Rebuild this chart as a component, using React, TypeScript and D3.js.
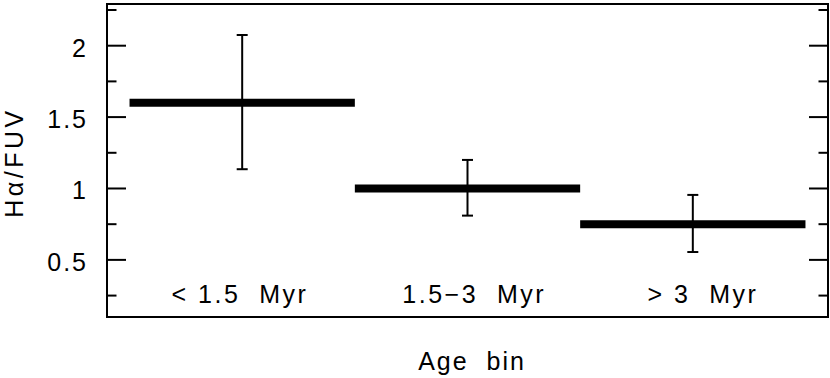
import React from 'react'
import { scaleLinear, range } from 'd3'

// Data
const bins = ['< 1.5 Myr', '1.5\u22123 Myr', '> 3 Myr']
const binStart = [0, 1, 2]
const binEnd = [1, 2, 3]
const ratio = [1.6, 1.0, 0.75]
const errLow = [1.135, 0.81, 0.555]
const errHigh = [2.075, 1.2, 0.955]
const labelX = [0.49, 1.53, 2.545]
const labelY = 0.2
const yTickLabels = ['0.5', '1', '1.5', '2']
const yMajor = [0.5, 1, 1.5, 2]

const W = 830
const H = 378
const margin = { left: 107, right: 2, top: 4, bottom: 61 }
const font = '"Liberation Sans", Arial, sans-serif'

const App = () => {
    const x = scaleLinear()
        .domain([-0.1, 3.1])
        .range([margin.left, W - margin.right])
    const y = scaleLinear()
        .domain([0.1, 2.292])
        .range([H - margin.bottom, margin.top])

    const minor = range(0.25, 2.3, 0.25).filter(v => !yMajor.includes(v))
    const x0 = x.range()[0]
    const x1 = x.range()[1]

    return (
        <svg width={W} height={H} style={{ position: 'absolute', left: 0, top: 0 }}
            fontFamily={font}>
            <rect x={0} y={0} width={W} height={H} fill="#fff" />

            {/* ticks on both sides, inward */}
            {yMajor.map(v => (
                <g key={'M' + v} stroke="#000" strokeWidth={2}>
                    <line x1={x0} x2={x0 + 19} y1={y(v)} y2={y(v)} />
                    <line x1={x1} x2={x1 - 19} y1={y(v)} y2={y(v)} />
                </g>
            ))}
            {minor.map(v => (
                <g key={'m' + v} stroke="#000" strokeWidth={2}>
                    <line x1={x0} x2={x0 + 9.5} y1={y(v)} y2={y(v)} />
                    <line x1={x1} x2={x1 - 9.5} y1={y(v)} y2={y(v)} />
                </g>
            ))}
            {yMajor.map((v, i) => (
                <text key={'t' + v} x={x0 - 19} y={y(v) + 11} textAnchor="end"
                    fontSize={25} letterSpacing={2}>{yTickLabels[i]}</text>
            ))}

            {/* bin bars */}
            {ratio.map((v, i) => (
                <line key={'b' + i} x1={x(binStart[i])} x2={x(binEnd[i])}
                    y1={y(v)} y2={y(v)} stroke="#000" strokeWidth={8} />
            ))}

            {/* error bars */}
            {ratio.map((v, i) => {
                const cx = x((binStart[i] + binEnd[i]) / 2)
                return (
                    <g key={'e' + i} stroke="#000" strokeWidth={2}>
                        <line x1={cx} x2={cx} y1={y(errLow[i])} y2={y(errHigh[i])} />
                        <line x1={cx - 5.5} x2={cx + 5.5} y1={y(errLow[i])} y2={y(errLow[i])} />
                        <line x1={cx - 5.5} x2={cx + 5.5} y1={y(errHigh[i])} y2={y(errHigh[i])} />
                    </g>
                )
            })}

            {/* bin labels */}
            {bins.map((b, i) => (
                <text key={'l' + i} x={x(labelX[i])} y={y(labelY)} textAnchor="middle"
                    fontSize={25} letterSpacing={2.5} style={{ whiteSpace: 'pre' }}>
                    {b.replace(' Myr', '  Myr')}
                </text>
            ))}

            <rect x={x0} y={margin.top} width={x1 - x0} height={H - margin.bottom - margin.top}
                fill="none" stroke="#000" strokeWidth={2} />

            <text x={472} y={370} textAnchor="middle" fontSize={25} letterSpacing={2}
                style={{ whiteSpace: 'pre' }}>{'Age  bin'}</text>
            <text transform={`translate(23,${(margin.top + H - margin.bottom) / 2 + 2}) rotate(-90)`}
                textAnchor="middle" fontSize={25} letterSpacing={3.5}>H{'\u03b1'}/FUV</text>
        </svg>
    )
}

export default App
